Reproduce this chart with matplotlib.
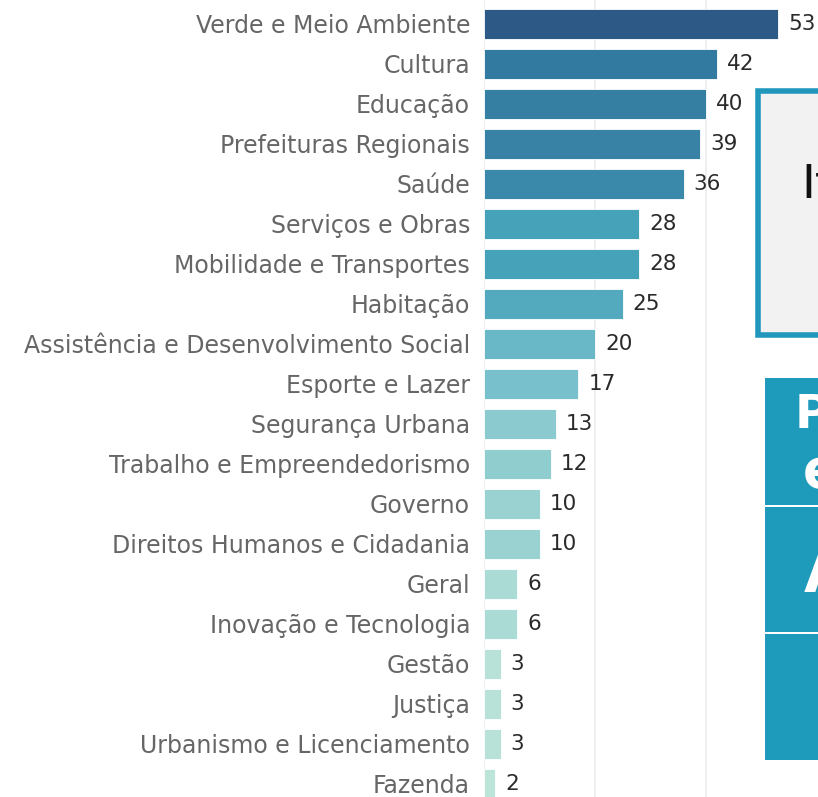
import matplotlib
matplotlib.use("Agg")
import matplotlib.pyplot as plt
from matplotlib.colors import LinearSegmentedColormap, Normalize
from matplotlib.patches import Rectangle

categories = ["Verde e Meio Ambiente", "Cultura", "Educação", "Prefeituras Regionais",
              "Saúde", "Serviços e Obras", "Mobilidade e Transportes", "Habitação",
              "Assistência e Desenvolvimento Social", "Esporte e Lazer", "Segurança Urbana",
              "Trabalho e Empreendedorismo", "Governo", "Direitos Humanos e Cidadania",
              "Geral", "Inovação e Tecnologia", "Gestão", "Justiça",
              "Urbanismo e Licenciamento", "Fazenda"]
values = [53, 42, 40, 39, 36, 28, 28, 25, 20, 17, 13, 12, 10, 10, 6, 6, 3, 3, 3, 2]

# paleta azul-verde (estilo Tableau)
cmap = LinearSegmentedColormap.from_list("blueteal", [
    (0.0, "#bce4d8"), (0.157, "#9ad2d1"), (0.35, "#6ab8c8"), (0.51, "#46a2b9"),
    (0.667, "#3a89aa"), (0.784, "#337aa0"), (1.0, "#2c5985")])
norm = Normalize(min(values), max(values))

W, H = 818, 797
fig = plt.figure(figsize=(W / 100, H / 100), dpi=100)
ax = fig.add_axes([484 / W, 0, 1 - 484 / W, 1])

ypos = list(range(len(categories)))
ax.barh(ypos, values, height=0.75, color=[cmap(norm(v)) for v in values],
        edgecolor="white", linewidth=0.6, zorder=3)
for y, v in zip(ypos, values):
    ax.text(v + 1.8, y, str(v), va="center", ha="left", fontsize=15.5,
            color="#2a2a2a", zorder=4)

ax.set_xlim(0, (W - 484) / 5.55)
ax.set_ylim(len(categories) - 1 + 0.33, -0.6)
ax.set_xticks([0, 20, 40])
ax.grid(axis="x", color="#ececec", linewidth=1.2, zorder=0)
ax.tick_params(axis="x", bottom=False, labelbottom=False)
ax.tick_params(axis="y", left=False, pad=6.5)
ax.set_yticks(ypos)
ax.set_yticklabels(categories, fontsize=17, color="#666666")
for s in ax.spines.values():
    s.set_visible(False)

# painéis cortados à direita (dashboard)
ov = fig.add_axes([0, 0, 1, 1], zorder=5)
ov.set_xlim(0, W)
ov.set_ylim(H, 0)
ov.axis("off")
ov.patch.set_alpha(0)
ov.add_patch(Rectangle((758, 91), 80, 244, facecolor="#f2f2f2",
                       edgecolor="#2198bb", linewidth=4))
ov.text(801, 185, "It", fontsize=34, color="#111111", va="center", ha="left")
teal = "#1e9aba"
ov.add_patch(Rectangle((765, 378), 60, 127, facecolor=teal, edgecolor="none"))
ov.add_patch(Rectangle((765, 507), 60, 125, facecolor=teal, edgecolor="none"))
ov.add_patch(Rectangle((765, 634), 60, 126, facecolor=teal, edgecolor="none"))
ov.text(795, 415, "P", fontsize=34, color="white", fontweight="bold", va="center", ha="left")
ov.text(803, 472, "e", fontsize=38, color="white", fontweight="bold", va="center", ha="left")
ov.text(804, 575, "A", fontsize=42, color="white", fontweight="bold", va="center", ha="left")

fig.savefig("out.png", dpi=100)
